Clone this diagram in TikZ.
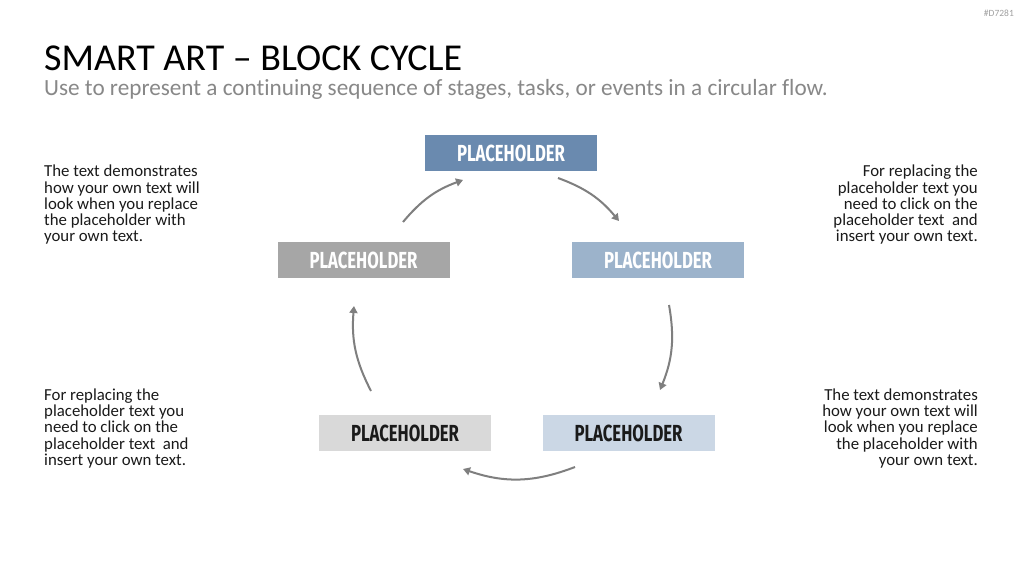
\documentclass[tikz,border=0pt]{standalone}
\usepackage{fontspec}
\setmainfont{Carlito}[Ligatures={NoCommon}]
\newfontfamily\placefont{Fira Sans}
\usetikzlibrary{arrows.meta}
\definecolor{boxA}{HTML}{6A8AAF}
\definecolor{boxB}{HTML}{9CB3CB}
\definecolor{boxC}{HTML}{CBD7E5}
\definecolor{boxD}{HTML}{D9D9D9}
\definecolor{boxE}{HTML}{A6A6A6}
\definecolor{arrowgray}{HTML}{7F7F7F}
\definecolor{subgray}{HTML}{888888}
\definecolor{bodytext}{HTML}{1A1A1A}
\newcommand{\ph}{\resizebox{108pt}{16.5pt}{\placefont\bfseries PLACEHOLDER}}
\tikzset{
  block/.style={minimum width=172pt, minimum height=36pt, inner sep=0pt, draw=none},
  lighttxt/.style={text=white},
  darktxt/.style={text=bodytext},
  cyc/.style={draw=arrowgray, line width=2pt, -{Triangle[length=7pt,width=8pt]}},
  bodyL/.style={anchor=base west, inner sep=0pt, align=left, text=bodytext, font=\fontsize{16.8pt}{16.3pt}\selectfont},
  bodyR/.style={anchor=base east, inner sep=0pt, align=right, text=bodytext, font=\fontsize{16.8pt}{16.3pt}\selectfont},
}
\begin{document}
\begin{tikzpicture}[x=1pt,y=1pt]
\useasboundingbox (0,0) rectangle (1024,576);
\fill[white] (0,0) rectangle (1024,576);
% header
\node[anchor=base east, inner sep=0pt, text=subgray!80, font=\fontsize{9.5pt}{10pt}\selectfont] (tag) at (1014,559) {\#D7281};
\node[anchor=base west, inner sep=0pt, text=black, font=\fontsize{38pt}{40pt}\selectfont] (title) at (44,505) {SMART ART -- BLOCK CYCLE};
\node[anchor=base west, inner sep=0pt, text=subgray, font=\fontsize{23.2pt}{25pt}\selectfont] (sub) at (44,480) {Use to represent a continuing sequence of stages, tasks, or events in a circular flow.};
% blocks
\node[block, fill=boxA, lighttxt] (top) at (511,423) {\ph};
\node[block, fill=boxB, lighttxt] (right) at (658,316) {\ph};
\node[block, fill=boxE, lighttxt] (left) at (363.5,316) {\ph};
\node[block, fill=boxC, darktxt] (br) at (628.5,143) {\ph};
\node[block, fill=boxD, darktxt] (bl) at (405,143) {\ph};
% arrow end points
\coordinate (a1s) at (403,354); \coordinate (a1e) at (463,396);
\coordinate (a2s) at (558,398); \coordinate (a2e) at (619,355);
\coordinate (a3s) at (669,271); \coordinate (a3e) at (660,186);
\coordinate (a4s) at (575,109); \coordinate (a4e) at (463,107);
\coordinate (a5s) at (371,185); \coordinate (a5e) at (354,270);
\draw[cyc] (a1s) to[bend left=15] (a1e);
\draw[cyc] (a2s) to[bend left=15] (a2e);
\draw[cyc] (a3s) to[bend left=16] (a3e);
\draw[cyc] (a4s) to[bend left=20] (a4e);
\draw[cyc] (a5s) to[bend left=16] (a5e);
% side texts (base anchor = last line)
\node[bodyL] (tl) at (44,334) {The text demonstrates\\how your own text will\\look when you replace\\the placeholder with\\your own text.};
\node[bodyR] (tr) at (978,334) {For replacing the\\placeholder text you\\need to click on the\\placeholder text\ \ and\\insert your own text.};
\node[bodyL] (blt) at (44,110.5) {For replacing the\\placeholder text you\\need to click on the\\placeholder text\ \ and\\insert your own text.};
\node[bodyR] (brt) at (978,110.5) {The text demonstrates\\how your own text will\\look when you replace\\the placeholder with\\your own text.};
\end{tikzpicture}
\end{document}
